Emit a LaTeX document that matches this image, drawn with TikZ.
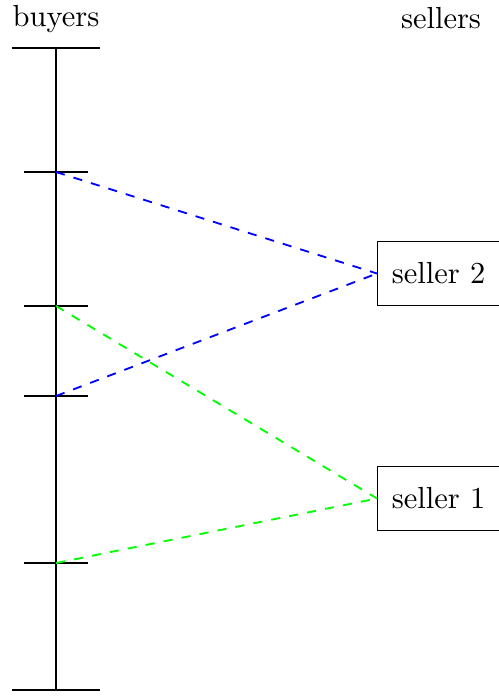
\documentclass[tikz,border=0pt]{standalone}
\usepackage{tikz}
\usetikzlibrary{arrows.meta,positioning}
\tikzset{
  seller/.style={draw, thin, fill=white, minimum width=40pt, minimum height=21pt, align=center},
  match/.style={semithick, dashed},
  bar/.style={thick},
}

\begin{document}
\begin{tikzpicture}[x=0.328pt, y=-0.328pt]
\useasboundingbox (0,0) rectangle (499,696);

% buyers axis
\coordinate (top) at (56,48);
\coordinate (bot) at (56,690);
\draw (top) -- (bot);
\draw[bar] (top) ++(-44,0) -- ++(88,0);
\draw[bar] (bot) ++(-44,0) -- ++(88,0);
\node (buyers) at (56,19) {buyers};

% buyer positions
\foreach \n/\y in {b1/172,b2/306,b3/396,b4/563} {
  \coordinate (\n) at (56,\y);
  \draw (\n) ++(-32,0) -- ++(64,0);
}

% sellers
\node (sellers) at (441,18) {sellers};
\node[seller, anchor=west] (s2) at (377,273.5) {seller 2};
\node[seller, anchor=west] (s1) at (377,498.5) {seller 1};

% matches
\draw[match, blue] (b1) -- (s2.west);
\draw[match, blue] (b3) -- (s2.west);
\draw[match, green] (b2) -- (s1.west);
\draw[match, green] (b4) -- (s1.west);

\end{tikzpicture}
\end{document}
